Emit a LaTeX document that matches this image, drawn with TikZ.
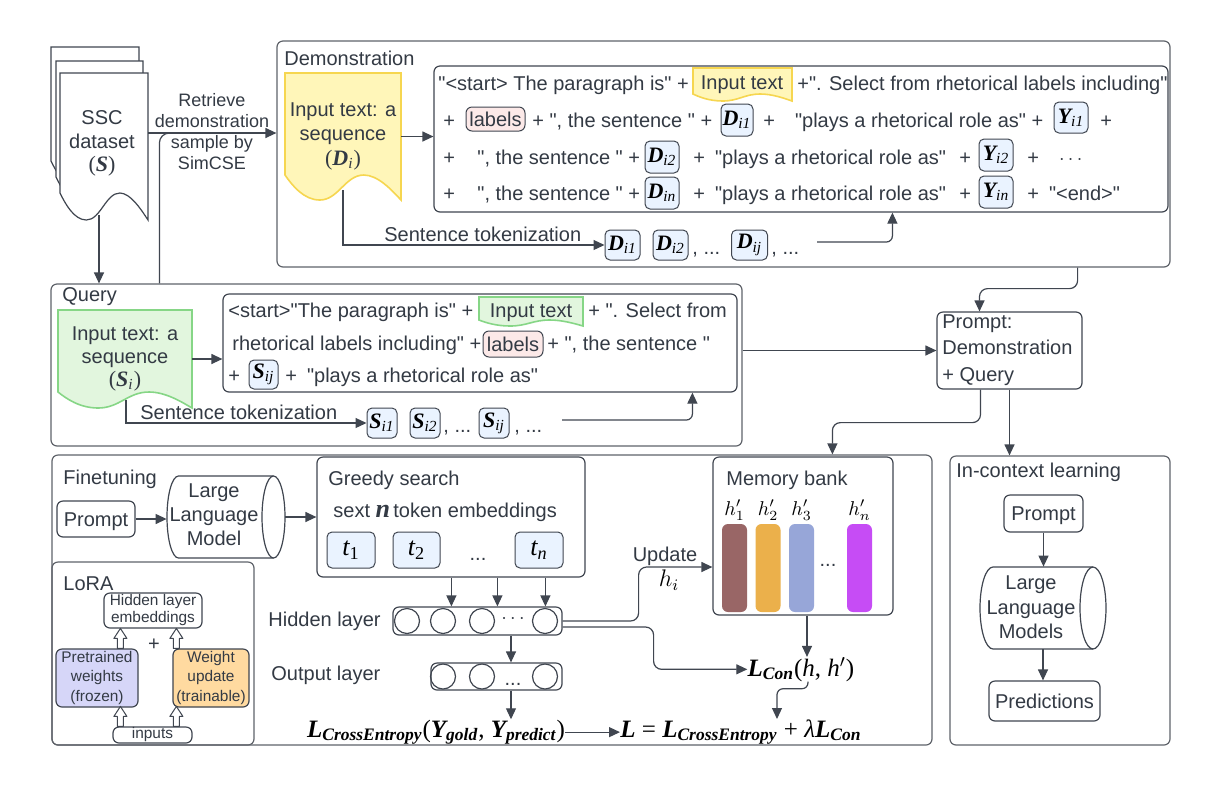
\documentclass[tikz,border=0pt]{standalone}
\usepackage{fontspec}
\setmainfont{Liberation Sans}[Ligatures=TeXOff]
\newfontfamily\symf{Liberation Serif}
\usetikzlibrary{arrows.meta,calc,fit}

\definecolor{ink}{RGB}{51,58,68}
\definecolor{linec}{RGB}{64,70,80}
\definecolor{framec}{RGB}{95,99,106}
\definecolor{yfill}{RGB}{255,246,185}
\definecolor{yline}{RGB}{246,214,80}
\definecolor{gfill}{RGB}{226,246,222}
\definecolor{gline}{RGB}{134,214,134}
\definecolor{pinkf}{RGB}{252,233,232}
\definecolor{tokf}{RGB}{234,243,255}
\definecolor{lavf}{RGB}{214,214,248}
\definecolor{orf}{RGB}{255,218,160}
\definecolor{barA}{RGB}{153,102,102}
\definecolor{barB}{RGB}{235,176,75}
\definecolor{barC}{RGB}{151,166,216}
\definecolor{barD}{RGB}{198,76,245}

\newcommand\mi[1]{{\symf\itshape #1}}
\newcommand\mb[1]{{\symf\bfseries\itshape #1}}
\newcommand\tk[2]{\mb{#1}\textsubscript{\mi{#2}}}

% document shape: name, left, top, right, bottom, wave depth, style
\newcommand\docshape[7]{%
  \node[fit={(#2,#3)(#4,#5)},inner sep=0pt] (#1) {};
  \draw[#7] (#2,#3) -- (#4,#3) -- (#4,#5)
    .. controls ({#4-0.08*(#4-#2)},{#5-0.4*#6}) and ({#2+0.8*(#4-#2)},{#5-#6}) .. ({#2+0.68*(#4-#2)},{#5-#6})
    .. controls ({#2+0.52*(#4-#2)},{#5-#6}) and ({#2+0.46*(#4-#2)},#5) .. ({#2+0.3*(#4-#2)},#5)
    .. controls ({#2+0.16*(#4-#2)},#5) and ({#2+0.06*(#4-#2)},{#5-0.6*#6}) .. (#2,{#5-#6}) -- cycle;}

\tikzset{
  frame/.style={draw=framec, line width=0.6pt, rounded corners=3pt, inner sep=0pt},
  box/.style={draw=linec, line width=0.6pt, rounded corners=3pt, inner sep=0pt},
  txt/.style={inner sep=0pt, text=ink, text height=7.2pt, text depth=0pt},
  ml/.style={inner sep=0pt, text=ink, align=center},
  tok/.style={draw=linec, fill=tokf, line width=0.5pt, rounded corners=2.5pt, inner sep=0pt,
    minimum width=17pt, minimum height=15.5pt, text=black, font=\fontsize{11}{12}\selectfont},
  tagP/.style={draw=linec, fill=pinkf, line width=0.5pt, rounded corners=3pt, inner sep=0pt,
    minimum height=12pt, text=ink},
  arr/.style={draw=linec, line width=0.6pt, -{Triangle[length=5.5pt,width=5pt]}},
  conn/.style={draw=linec, line width=0.6pt},
  docY/.style={draw=yline, fill=yfill, line width=0.8pt},
  docG/.style={draw=gline, fill=gfill, line width=0.8pt},
  docW/.style={draw=linec, fill=white, line width=0.6pt},
  fml/.style={inner sep=0pt, text=black, font=\fontsize{12.5}{14}\selectfont\symf},
  blockup/.pic={\draw[draw=linec, fill=white, line width=0.5pt, line join=round]
    (-3,0) -- (-3,-10) -- (-6.5,-10) -- (0,-20) -- (6.5,-10) -- (3,-10) -- (3,0) -- cycle;}
}

\begin{document}
\begin{tikzpicture}[x=0.5pt,y=-0.5pt,font=\fontsize{10}{12}\selectfont]
  \fill[white] (0,0) rectangle (1227,789);
  \useasboundingbox (0,0) rectangle (1227,789);

  % Frames
  \node[frame, fit={(277,41)(1170,267)}] (demo) {};
  \node[frame, fit={(51,284)(742,446)}] (query) {};
  \node[frame, fit={(52,455)(932,745)}] (fine) {};
  \node[frame, fit={(950,456)(1170,745)}] (icl) {};
  \node[frame, fit={(52,562)(254,745)}] (lora) {};

  % Dataset
  \docshape{sscB}{51}{47}{139}{188}{27}{docW}
  \docshape{sscM}{56}{61}{143}{204}{27}{docW}
  \docshape{ssc}{60}{73}{148}{220}{27}{docW}
  \node[ml, font=\fontsize{10}{11.75}\selectfont] (sscT) at (102,143.5) {SSC\\dataset\\{\fontsize{11}{12}\selectfont\symf(\mb{S})}};
  \draw[arr] ($(ssc.east)+(0,-13.5)$) coordinate (rs) -- (rs -| demo.west);
  \node[ml, font=\fontsize{9}{10.5}\selectfont] (retr) at (212,131.5) {Retrieve\\demonstration\\sample by\\SimCSE};
  \draw[conn, rounded corners=5pt] ($(query.north west)+(109,0)$) |- ($(rs)+(40,0)$);
  \draw[arr] ($(ssc.south)+(-5,-5)$) coordinate (sd) -- (sd |- query.north);

  % Demonstration
  \node[txt, anchor=west] (demoL) at (284,58) {Demonstration};
  \docshape{dDoc}{285}{73}{401}{200}{25}{docY}
  \node[ml, font=\fontsize{10}{12.25}\selectfont] (dDocT) at (343,136) {Input text: a\\sequence\\{\fontsize{11}{12}\selectfont\symf(\tk{D}{i})}};
  \node[box, fit={(434,66)(1168,212)}] (demoP) {};
  \draw[arr] (dDoc.east) -- (dDoc.east -| demoP.west);
  % row 1
  \node[txt, anchor=west] (d1a) at (438,83) {"<start> The paragraph is" +};
  \docshape{dTag}{693}{68}{792}{101}{7}{docY}
  \node[txt] (dTagT) at (742,82) {Input text};
  \node[txt, anchor=west] (d1b) at (797,83) {+". Select from rhetorical labels including"};
  % row 2
  \node[txt, anchor=west] (d2a) at (443,120) {+};
  \node[tagP, minimum width=29.5pt] (dLab) at (495.5,119) {labels};
  \node[txt, anchor=west] (d2b) at (532,120) {+ ", the sentence " +};
  \node[tok, minimum width=16pt, minimum height=16pt] (dD1) at (737,120) {\tk{D}{i1}};
  \node[txt, anchor=west] (d2c) at (763,120) {+\quad"plays a rhetorical role as" +};
  \node[tok, minimum width=17pt] (dY1) at (1071,117.5) {\tk{Y}{i1}};
  \node[txt, anchor=west] (d2d) at (1100,120) {+};
  % row 3
  \node[txt, anchor=west] (d3a) at (443,157) {+};
  \node[txt, anchor=west] (d3b) at (477,157) {", the sentence " +};
  \node[tok, minimum height=16pt] (dD2) at (662,157) {\tk{D}{i2}};
  \node[txt, anchor=west] (d3c) at (693,157) {+\enspace"plays a rhetorical role as"};
  \node[txt, anchor=west] (d3d) at (959,157) {+};
  \node[tok, minimum height=16pt] (dY2) at (996,155) {\tk{Y}{i2}};
  \node[txt, anchor=west] (d3e) at (1027,157) {+\quad$\cdots$};
  % row 4
  \node[txt, anchor=west] (d4a) at (443,193) {+};
  \node[txt, anchor=west] (d4b) at (477,193) {", the sentence " +};
  \node[tok, minimum height=16pt] (dDn) at (662,193) {\tk{D}{in}};
  \node[txt, anchor=west] (d4c) at (693,193) {+\enspace"plays a rhetorical role as"};
  \node[txt, anchor=west] (d4d) at (959,193) {+};
  \node[tok, minimum height=16pt] (dYn) at (996,192) {\tk{Y}{in}};
  \node[txt, anchor=west] (d4e) at (1027,193) {+\enspace"<end>"};
  % tokenization
  \node[txt, anchor=west] (dTokL) at (384,234) {Sentence tokenization};
  \node[tok, minimum width=17.5pt, minimum height=15pt] (dt1) at (622.5,245) {\tk{D}{i1}};
  \node[tok, minimum width=17.5pt, minimum height=15pt] (dt2) at (670.5,245) {\tk{D}{i2}};
  \node[txt, anchor=west] at (692,247) {, ...};
  \node[tok, minimum width=18pt, minimum height=15pt] (dtj) at (749.5,245) {\tk{D}{ij}};
  \node[txt, anchor=west] at (771,247) {, ...};
  \draw[arr] ($(dDoc.south)+(0,-10)$) |- (dt1.west);
  \coordinate (dEnd) at (817,242);
  \draw[arr, rounded corners=3pt] (dEnd) -| ($(demoP.south west)+(459,0)$);

  % Query
  \node[txt, anchor=west] (queryL) at (62,294) {Query};
  \docshape{gDoc}{58}{310}{192}{408}{16}{docG}
  \node[ml, font=\fontsize{10}{11.5}\selectfont] (gDocT) at (125,359) {Input text: a\\sequence\\{\fontsize{11}{12}\selectfont\symf(\tk{S}{i})}};
  \node[box, fit={(223,294)(737,392)}] (qP) {};
  \draw[arr] (gDoc.east) -- (gDoc.east -| qP.west);
  \node[txt, anchor=west] (q1a) at (228,310) {<start>"The paragraph is" +};
  \docshape{gTag}{479}{297}{583}{326}{6}{docG}
  \node[txt] (gTagT) at (531,310) {Input text};
  \node[txt, anchor=west] (q1b) at (588,310) {+ ". Select from};
  \node[txt, anchor=west] (q2a) at (232,343) {rhetorical labels including" +};
  \node[tagP, minimum width=30pt, minimum height=13pt] (qLab) at (513,344) {labels};
  \node[txt, anchor=west] (q2b) at (547,343) {+ ", the sentence "};
  \node[txt, anchor=west] (q3a) at (228,375) {+};
  \node[tok, minimum width=14.5pt, minimum height=14.5pt] (qSij) at (263.5,374.5) {\tk{S}{ij}};
  \node[txt, anchor=west] (q3b) at (285,375) {+\enspace"plays a rhetorical role as"};
  % tokenization
  \node[txt, anchor=west] (qTokL) at (140,412) {Sentence tokenization};
  \node[tok, minimum width=15pt, minimum height=15pt] (qt1) at (382,423) {\tk{S}{i1}};
  \node[tok, minimum width=15pt, minimum height=15pt] (qt2) at (425,423) {\tk{S}{i2}};
  \node[txt, anchor=west] at (443,425) {, ...};
  \node[tok, minimum width=15pt, minimum height=15pt] (qtj) at (494,423) {\tk{S}{ij}};
  \node[txt, anchor=west] at (514,425) {, ...};
  \draw[arr] ($(gDoc.south)+(1,-8)$) |- (qt1.west);
  \coordinate (qEnd) at (562,420);
  \draw[arr, rounded corners=3pt] (qEnd) -| ($(qP.south west)+(470,0)$);

  % Prompt
  \node[box, fit={(937,312)(1082,389)}] (prompt) {};
  \node[ml, align=left, anchor=west, font=\fontsize{10}{13.25}\selectfont] (promptT) at (942,350) {Prompt:\\Demonstration\\+ Query};
  \draw[arr] (prompt.west -| query.east) -- (prompt.west);
  \draw[arr, rounded corners=4pt] ($(demo.south east)+(-93,0)$) -- ++(0,21) -| ($(prompt.north)+(-30,0)$);
  \draw[arr, rounded corners=4pt] ($(prompt.south)+(-29,0)$) -- ++(0,33) -| ($(fine.north west)+(781,0)$);
  \draw[arr] (prompt.south) -- (prompt.south |- icl.north);

  % Finetuning
  \node[txt, anchor=west] (fineL) at (63,477) {Finetuning};
  \node[box, fit={(57,501)(135,537)}] (ftPrompt) {};
  \node[txt] at (ftPrompt) {Prompt};
  \node[fit={(167,476)(285,558)}, inner sep=0pt] (ftLLM) {};
  \draw[conn, fill=white] (178.5,476) -- (273.5,476) arc[start angle=90,end angle=-90,x radius=5.75pt,y radius=20.5pt]
    -- (178.5,558) arc[start angle=270,end angle=90,x radius=5.75pt,y radius=20.5pt] -- cycle;
  \draw[conn] (273.5,476) arc[start angle=90,end angle=270,x radius=5.75pt,y radius=20.5pt];
  \node[ml, font=\fontsize{10}{12}\selectfont] (ftLLMT) at (214,515) {Large\\Language\\Model};
  \draw[arr] (ftPrompt.east) -- (ftPrompt.east -| ftLLM.west);
  \node[box, fit={(317,457)(585,577)}] (greedy) {};
  \draw[arr] (ftLLM.east) -- (ftLLM.east -| greedy.west);
  \node[txt, anchor=west] (greedyL) at (328,478) {Greedy search};
  \node[txt, anchor=west] (greedyS) at (333,510) {sext {\fontsize{13}{13}\selectfont\mb{n}}\,token embeddings};
  \node[tok, minimum width=24pt, minimum height=18pt, font=\fontsize{13}{13}\selectfont] (t1) at (351,550) {\mi{t}{\symf\textsubscript{1}}};
  \node[tok, minimum width=23.5pt, minimum height=18pt, font=\fontsize{13}{13}\selectfont] (t2) at (416.5,550) {\mi{t}{\symf\textsubscript{2}}};
  \node[txt] at (478,553) {...};
  \node[tok, minimum width=24pt, minimum height=18pt, font=\fontsize{13}{13}\selectfont] (tn) at (539,550) {\mi{t}\textsubscript{\mi{n}}};

  % Layers
  \node[box, fit={(393,607)(562,635)}] (hidden) {};
  \foreach \x in {407,443,482,545} \draw[conn] (\x,621) circle[radius=6.25pt];
  \node[inner sep=0pt, text=ink] at (513,619) {$\cdots$};
  \node[txt, anchor=west] (hiddenL) at (268,619) {Hidden layer};
  \foreach \dx in {135,181,229} \draw[arr] ($(greedy.south west)+(\dx,0)$) coordinate (gs) -- (gs |- hidden.north);
  \node[box, fit={(431,663)(562,690)}] (output) {};
  \foreach \x in {443,482,545} \draw[conn] (\x,676.5) circle[radius=6.25pt];
  \node[txt] at (513,678) {...};
  \node[txt, anchor=west] (outputL) at (271,673) {Output layer};
  \coordinate (ho) at ($(output.north)+(14.5,0)$);
  \draw[arr] (ho |- hidden.south) -- (ho);
  \node[fml, anchor=base] (ce) at (436,737) {\mb{L}\textsubscript{\mb{CrossEntropy}}(\mb{Y}\textsubscript{\mb{gold}}, \mb{Y}\textsubscript{\mb{predict}})};
  \draw[arr] (ho |- output.south) -- (ho |- ce.north);
  \node[fml, anchor=base] (lform) at (741,737) {\mb{L} = \mb{L}\textsubscript{\mb{CrossEntropy}} + \mi{λ}\mb{L}\textsubscript{\mb{Con}}};
  \draw[arr] (ce.east) -- (ce.east -| lform.west);

  % Memory bank
  \node[box, fit={(713,457)(893,615)}] (memory) {};
  \node[txt, anchor=west] (memoryL) at (726,478) {Memory bank};
  \foreach \x/\c/\s in {734.5/barA/1, 768/barB/2, 801.5/barC/3, 859.5/barD/n} {
    \fill[\c, rounded corners=3pt] ({\x-12.5},524) rectangle ({\x+12.5},612);
    \node[inner sep=0pt] at (\x,510) {$h'_{\s}$};
  }
  \node[inner sep=0pt, text=ink] at (828,565) {...};
  \draw[arr, rounded corners=4pt] (hidden.east) -- ++(76,0) |- ($(memory.west)+(0,31)$);
  \node[txt] (updL) at (665,554) {Update};
  \node[inner sep=0pt, font=\fontsize{12}{12}\selectfont] (updH) at (669,580) {$h_i$};
  \node[fml, anchor=base] (lcon) at (801,676) {\mb{L}\textsubscript{\mb{Con}}(\mi{h}, \mi{h}$'$)};
  \draw[arr, rounded corners=4pt] ($(hidden.east)+(0,6)$) -- ++(91,0) |- (lcon.west);
  \draw[arr] ($(memory.south)+(4,0)$) coordinate (ms) -- (ms |- lcon.north);
  \draw[arr, rounded corners=3pt] ($(lcon.south)+(7,0)$) -- ++(0,7) -| ($(lform.north)+(36,0)$);

  % LoRA
  \node[txt, anchor=west] (loraL) at (63,583) {LoRA};
  \node[box, fit={(104,593)(202,628)}] (hle) {};
  \node[ml, font=\fontsize{7.7}{8.5}\selectfont] at (hle) {Hidden layer\\embeddings};
  \node[txt] at (154,643) {+};
  \node[box, fill=lavf, fit={(56,649)(138,707)}] (pre) {};
  \node[ml, font=\fontsize{7.7}{9.75}\selectfont] at (pre) {Pretrained\\weights\\(frozen)};
  \node[box, fill=orf, fit={(173,649)(249,707)}] (wup) {};
  \node[ml, font=\fontsize{7.7}{9.75}\selectfont] at (wup) {Weight\\update\\(trainable)};
  \node[box, fit={(113,727)(192,743)}] (inp) {};
  \node[ml, font=\fontsize{7.7}{8}\selectfont] at (inp) {inputs};
  \pic at ($(inp.north west)+(8,0)$) {blockup};
  \pic at ($(inp.north west)+(64,0)$) {blockup};
  \pic at ($(pre.north west)+(65,0)$) {blockup};
  \pic at ($(wup.north west)+(4,0)$) {blockup};

  % In-context learning
  \node[txt, anchor=west] (iclL) at (956,470) {In-context learning};
  \node[box, fit={(1004,495)(1083,532)}] (icPrompt) {};
  \node[txt] at (icPrompt) {Prompt};
  \node[fit={(980,567)(1106,649)}, inner sep=0pt] (icLLM) {};
  \draw[conn, fill=white] (993,567) -- (1093,567) arc[start angle=90,end angle=-90,x radius=6.5pt,y radius=20.5pt]
    -- (993,649) arc[start angle=270,end angle=90,x radius=6.5pt,y radius=20.5pt] -- cycle;
  \draw[conn] (1093,567) arc[start angle=90,end angle=270,x radius=6.5pt,y radius=20.5pt];
  \node[ml, font=\fontsize{10}{12.25}\selectfont] (icLLMT) at (1031,607.5) {Large\\Language\\Models};
  \node[box, fit={(989,681)(1100,721)}] (pred) {};
  \node[txt] at (pred) {Predictions};
  \draw[arr] (icPrompt.south) -- (icPrompt.south |- icLLM.north);
  \draw[arr] (icLLM.south) -- (icLLM.south |- pred.north);
\end{tikzpicture}
\end{document}
